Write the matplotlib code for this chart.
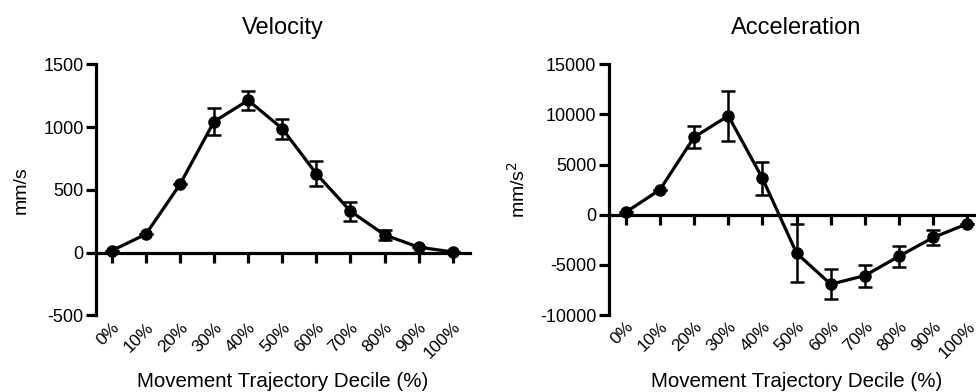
import numpy as np
import matplotlib
matplotlib.use('Agg')
import matplotlib.pyplot as plt

plt.rcParams['font.family'] = ['Liberation Sans', 'DejaVu Sans']
plt.rcParams['axes.unicode_minus'] = False

deciles = ['0%', '10%', '20%', '30%', '40%', '50%', '60%', '70%', '80%', '90%', '100%']

velocity = [15, 146, 543, 1044, 1214, 988, 628, 330, 141, 43, 5]
velocity_err = [0, 0, 0, 107, 75, 80, 100, 75, 40, 0, 0]

accel = [250, 2500, 7733, 9867, 3633, -3833, -6933, -6067, -4133, -2267, -900]
accel_err = [0, 0, 1070, 2470, 1630, 2900, 1500, 1100, 1050, 730, 0]

lw = 2.3
fig = plt.figure(figsize=(9.76, 3.92), dpi=100)


def draw_panel(rect, y, err, ylim, yticks, title, ylabel, xlim, ylabel_x):
    ax = fig.add_axes(rect)
    x = np.arange(len(deciles))
    ax.errorbar(x, y, yerr=err, color='black', lw=lw, marker='o', ms=8,
                capsize=5, capthick=1.8, elinewidth=1.8, clip_on=False, zorder=3)
    ax.set_xlim(*xlim)
    ax.set_ylim(*ylim)
    ax.set_yticks(yticks)
    ax.tick_params(axis='y', length=7, width=lw, labelsize=13, pad=2)
    for s in ['top', 'right']:
        ax.spines[s].set_visible(False)
    ax.spines['left'].set_linewidth(lw)
    ax.spines['bottom'].set_linewidth(lw)
    ax.spines['bottom'].set_position(('data', 0))
    ax.set_xticks(x)
    ax.tick_params(axis='x', length=7.5, width=lw, labelbottom=False)
    # tick labels sit at the bottom of the axes, not on the zero line
    sec = ax.secondary_xaxis('bottom')
    sec.set_xticks(x, deciles, rotation=45, ha='right', rotation_mode='anchor')
    sec.spines['bottom'].set_visible(False)
    sec.tick_params(length=0, labelsize=12.5, pad=3)
    ax.set_xlabel('Movement Trajectory Decile (%)', fontsize=14.8)
    ax.xaxis.set_label_coords(0.5, -0.227)
    ax.set_ylabel(ylabel, fontsize=14)
    ax.yaxis.set_label_coords(ylabel_x, 0.5)
    ax.set_title(title, fontsize=17, pad=22)
    return ax


draw_panel([0.0984, 0.1957, 0.383, 0.640], velocity, velocity_err,
           (-500, 1500), [-500, 0, 500, 1000, 1500], 'Velocity', 'mm/s',
           (-0.46, 10.5), -0.178)
draw_panel([0.6237, 0.1964, 0.385, 0.6395], accel, accel_err,
           (-10000, 15000), [-10000, -5000, 0, 5000, 10000, 15000], 'Acceleration',
           'mm/s$^2$', (-0.5, 10.5), -0.214)

fig.savefig('out.png', dpi=100)
